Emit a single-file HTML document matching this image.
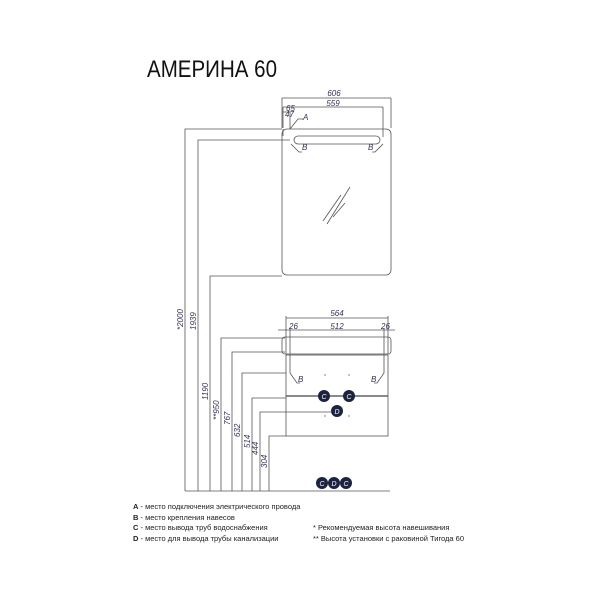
<!DOCTYPE html>
<html><head><meta charset="utf-8"><style>
html,body{margin:0;padding:0;background:#fff;}
svg{display:block;}
.l{stroke:#555;stroke-width:0.8;fill:none;}
.d{font-family:"Liberation Sans Narrow","Liberation Sans",sans-serif;font-style:italic;font-size:8px;fill:#335;}
.g{font-family:"Liberation Sans",sans-serif;font-size:7.5px;fill:#222;}
</style></head><body>
<svg width="600" height="600" viewBox="0 0 600 600" xmlns="http://www.w3.org/2000/svg">
<text x="147" y="77" font-family="Liberation Sans, sans-serif" font-size="24" fill="#111" textLength="130" lengthAdjust="spacingAndGlyphs">АМЕРИНА 60</text>

<!-- mirror -->
<rect x="282" y="129" width="109" height="146" rx="5" class="l" stroke-width="1.1"/>
<rect x="294" y="136" width="86" height="8" rx="4" class="l"/>
<path class="l" d="M283 136 L283 129 M282 98 L282 128 M391 98 L391 128 M283 107 L283 128 M383 107 L383 137"/>
<path class="l" d="M282 98 H391 M283 107 H383"/>
<path class="l" d="M291 144 L299 152 H302 M383 144 L375 152 H372"/>
<path class="l" d="M323 221 L341 195 M327 224 L350 187 M333 217 L345 203"/>
<text class="d" x="334" y="96" text-anchor="middle">606</text>
<text class="d" x="333" y="106" text-anchor="middle">559</text>
<path class="l" d="M283 112 H290 V129 M290 129 L298 119 H303"/>
<text class="d" x="285" y="117" font-size="6">47</text>
<text class="d" x="286" y="111" font-size="6">65</text>
<text class="d" x="303" y="120">A</text>
<text class="d" x="302" y="150">B</text>
<text class="d" x="368" y="150">B</text>

<!-- cabinet -->
<rect x="282" y="337" width="109" height="17" rx="3" class="l"/>
<rect x="286" y="355" width="102" height="81" class="l" stroke-width="1"/>
<path class="l" d="M286 318 H388 M278 330 H395 M286 316 V354 M388 316 V354 M290 328 V354 M384 328 V354"/>
<path d="M286 396 H388" stroke="#444" stroke-width="1.3"/>
<path class="l" d="M290 355 V373 L297 383 H300 M384 355 V373 L377 383 H374"/>
<text class="d" x="337" y="316" text-anchor="middle">564</text>
<text class="d" x="337" y="329" text-anchor="middle">512</text>
<text class="d" x="289" y="329">26</text>
<text class="d" x="381" y="329">26</text>
<text class="d" x="298" y="382">B</text>
<text class="d" x="371" y="382">B</text>
<g fill="#666"><circle cx="325" cy="375" r="0.7"/><circle cx="349" cy="375" r="0.7"/><circle cx="325" cy="416" r="0.7"/><circle cx="349" cy="416" r="0.7"/></g>
<g fill="#1c2340">
<circle cx="324" cy="396" r="6"/><circle cx="349" cy="396" r="6"/><circle cx="337" cy="411" r="6"/>
<circle cx="322" cy="483" r="6"/><circle cx="334" cy="483" r="6"/><circle cx="346" cy="483" r="6"/>
</g>
<g font-family="Liberation Sans, sans-serif" font-size="7" fill="#fff" text-anchor="middle" font-style="italic">
<text x="324" y="399">C</text><text x="349" y="399">C</text><text x="337" y="414">D</text>
<text x="322" y="486">C</text><text x="334" y="486">D</text><text x="346" y="486">C</text>
</g>

<!-- height dims -->
<path class="l" d="M185 491 H390"/>
<path class="l" d="M185 491 V129 H282 M198 491 V140 H290 M210 491 V276 H282 M221 491 V338 H285 M232 491 V352 H285 M242 491 V373 H286 M252 491 V398 H286 M260 491 V412 H332 M269 491 V436 H286"/>
<g class="d">
<text transform="translate(183,330) rotate(-90)">*2000</text>
<text transform="translate(196,330) rotate(-90)">1939</text>
<text transform="translate(208,400) rotate(-90)">1190</text>
<text transform="translate(219,420) rotate(-90)">**950</text>
<text transform="translate(230,425) rotate(-90)">767</text>
<text transform="translate(240,437) rotate(-90)">632</text>
<text transform="translate(250,448) rotate(-90)">514</text>
<text transform="translate(258,455) rotate(-90)">444</text>
<text transform="translate(267,468) rotate(-90)">304</text>
</g>

<!-- legend -->
<text class="g" x="133" y="509"><tspan font-weight="bold">A</tspan> - место подключения электрического провода</text>
<text class="g" x="133" y="520"><tspan font-weight="bold">B</tspan> - место крепления навесов</text>
<text class="g" x="133" y="530"><tspan font-weight="bold">C</tspan> - место вывода труб водоснабжения</text>
<text class="g" x="133" y="541"><tspan font-weight="bold">D</tspan> - место для вывода трубы канализации</text>
<text class="g" x="313" y="530">* Рекомендуемая высота навешивания</text>
<text class="g" x="313" y="541">** Высота установки с раковиной Тигода 60</text>
</svg>
</body></html>
